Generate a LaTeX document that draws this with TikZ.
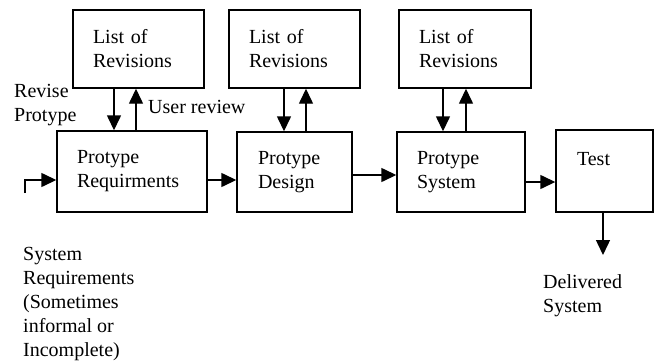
\documentclass[tikz,border=0pt]{standalone}
\usepackage{fontspec}
\setmainfont{Liberation Serif}
\usetikzlibrary{positioning, arrows.meta, calc}

\begin{document}
\begin{tikzpicture}[
  x=1pt, y=-1pt,
  >={Triangle[length=15pt, width=14pt]},
  every node/.style={font=\fontsize{20}{24}\selectfont},
  box/.style={draw, line width=1.4pt, inner sep=0pt, align=left},
  link/.style={->, line width=1.4pt},
  lbl/.style={inner sep=0pt, align=left, anchor=north west}
]
\useasboundingbox (0,0) rectangle (657,362);

% Lists of revisions (upper row)
\node[box, minimum width=131pt, minimum height=78pt, text width=91pt] (rev1) at (138.5,49) {List of\\Revisions};
\node[box, minimum width=131pt, minimum height=78pt, text width=91pt] (rev2) at (294.5,49) {List of\\Revisions};
\node[box, minimum width=132pt, minimum height=78pt, text width=92pt] (rev3) at (465,49) {List of\\Revisions};

% Prototype stages (lower row)
\node[box, minimum width=150pt, minimum height=81pt, text width=110pt] (req) at (132,171.5) {Protype\\Requirments};
\node[box, minimum width=115pt, minimum height=80pt, text width=73pt] (des) at (294.5,172) {Protype\\Design};
\node[box, minimum width=128pt, minimum height=80pt, text width=88pt] (sys) at (461,172) {Protype\\System};
\node[box, minimum width=97pt, minimum height=82pt, text width=55pt] (test) at (604.5,171) {Test\\~};

% Free ends
\coordinate (in) at (25,193);
\coordinate (out) at (603,255);

% Revision loops
\draw[link] ([xshift=-18pt]req.north |- rev1.south) -- ([xshift=-18pt]req.north);
\draw[link] ([xshift=4pt]req.north) -- ([xshift=4pt]req.north |- rev1.south);
\draw[link] ([xshift=-10.5pt]des.north |- rev2.south) -- ([xshift=-10.5pt]des.north);
\draw[link] ([xshift=11.5pt]des.north) -- ([xshift=11.5pt]des.north |- rev2.south);
\draw[link] ([xshift=-18pt]sys.north |- rev3.south) -- ([xshift=-18pt]sys.north);
\draw[link] ([xshift=5pt]sys.north) -- ([xshift=5pt]sys.north |- rev3.south);

% Main flow
\draw[link] (in) |- ([yshift=-8.5pt]req.west);
\draw[link] ([yshift=-8.5pt]req.east) -- ([yshift=-8.5pt]req.east -| des.west);
\draw[link] ([yshift=-3pt]des.east) -- ([yshift=-3pt]des.east -| sys.west);
\draw[link] ([yshift=-10pt]sys.east) -- ([yshift=-10pt]sys.east -| test.west);
\draw[link] (test.south -| out) -- (out);

% Labels
\node[lbl] (revise) at (14,84) {Revise\\Protype};
\node[lbl] (review) at (148,100) {User review};
\node[lbl] (sysreq) at (23,247) {System\\Requirements\\(Sometimes\\informal or\\Incomplete)};
\node[lbl] (deliv) at (543,274) {Delivered\\System};

\end{tikzpicture}
\end{document}
